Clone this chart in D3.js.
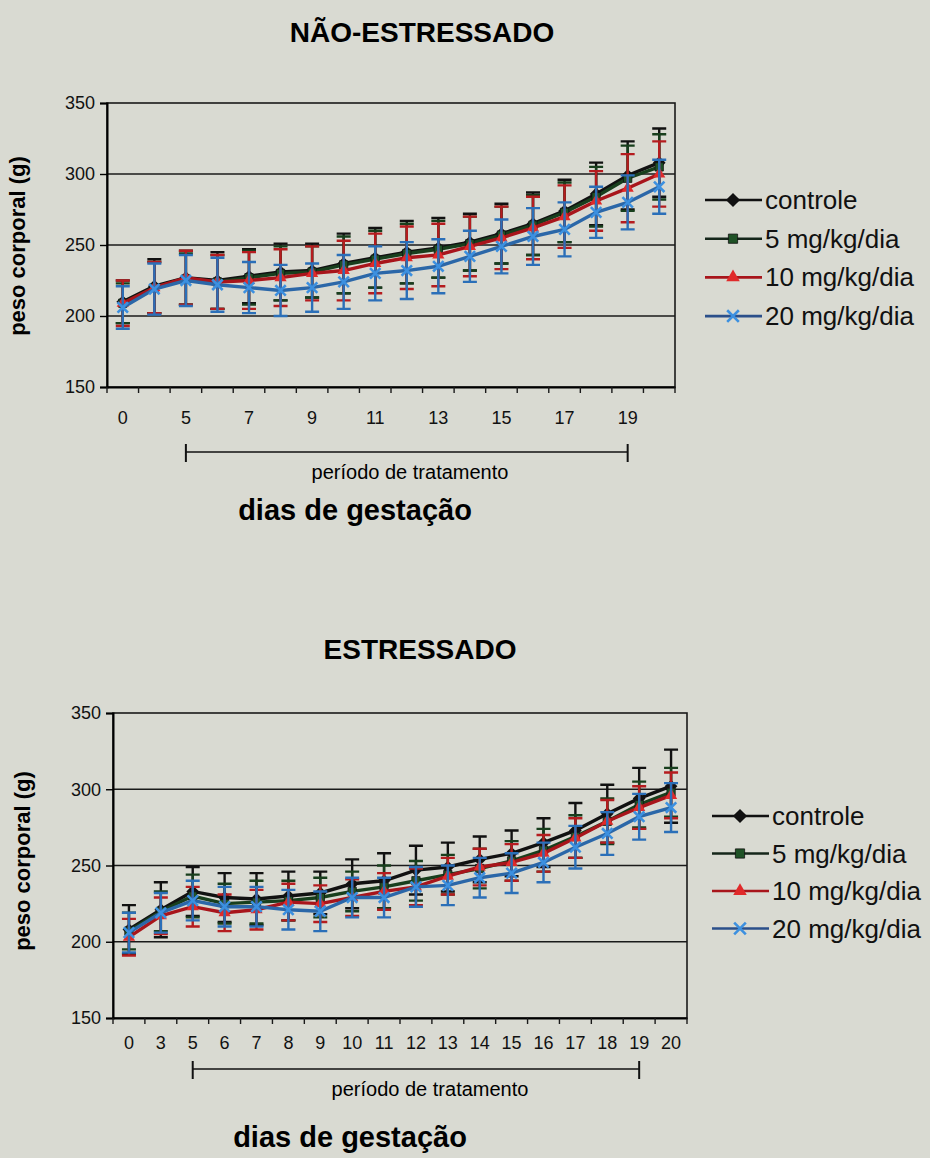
<!DOCTYPE html>
<html>
<head>
<meta charset="utf-8">
<script src="https://cdn.jsdelivr.net/npm/d3@7"></script>
<style>
    body { margin: 0; background: #d9dad2; }
    svg { display: block; font-family: "Liberation Sans", Arial, sans-serif; }
</style>
</head>
<body>
<div id="chart"></div>
<script>

// gestation days (categories) and y ticks
const days = ["0", "3", "5", "6", "7", "8", "9", "10", "11", "12", "13", "14", "15", "16", "17", "18", "19", "20"];
const yTicks = [150, 200, 250, 300, 350];
const seriesNames = ["controle", "5 mg/kg/dia", "10 mg/kg/dia", "20 mg/kg/dia"];

// NÃO-ESTRESSADO : means and error
const naoControle = [210, 221, 227, 225, 228, 231, 232, 237, 241, 245, 248, 252, 258, 265, 274, 286, 299, 308];
const nao5mg      = [209, 220, 226, 224, 227, 230, 231, 236, 240, 244, 247, 251, 257, 264, 273, 284, 297, 305];
const nao10mg     = [209, 220, 227, 224, 225, 227, 230, 232, 237, 241, 243, 249, 255, 262, 270, 281, 290, 300];
const nao20mg     = [206, 219, 225, 222, 220, 218, 220, 224, 230, 232, 235, 242, 249, 256, 261, 273, 280, 291];
const naoControleErr = [15, 19, 19, 20, 19, 20, 19, 21, 21, 22, 21, 20, 21, 22, 22, 22, 24, 24];
const nao5mgErr      = [14, 18, 18, 19, 19, 19, 18, 20, 20, 21, 20, 19, 20, 21, 21, 21, 23, 23];
const nao10mgErr     = [16, 18, 19, 19, 20, 20, 19, 21, 21, 22, 22, 21, 22, 22, 22, 21, 24, 23];
const nao20mgErr     = [15, 18, 18, 19, 18, 18, 17, 19, 19, 20, 19, 18, 19, 20, 19, 18, 19, 19];

// ESTRESSADO : means and error
const estControle = [208, 221, 233, 229, 228, 230, 232, 238, 240, 247, 249, 254, 258, 265, 273, 284, 294, 302];
const est5mg      = [207, 220, 230, 225, 226, 227, 229, 233, 236, 240, 244, 248, 253, 260, 269, 279, 290, 298];
const est10mg     = [203, 217, 223, 219, 221, 226, 225, 229, 233, 236, 243, 249, 252, 258, 268, 279, 288, 296];
const est20mg     = [206, 219, 227, 223, 223, 221, 220, 229, 229, 236, 237, 242, 245, 252, 262, 271, 282, 288];
const estControleErr = [16, 18, 16, 16, 17, 16, 14, 16, 18, 16, 16, 15, 15, 16, 18, 19, 20, 24];
const est5mgErr      = [12, 13, 14, 13, 14, 13, 13, 13, 14, 13, 13, 13, 13, 14, 14, 15, 15, 16];
const est10mgErr     = [12, 12, 13, 12, 13, 12, 12, 12, 12, 12, 12, 12, 12, 12, 13, 14, 14, 15];
const est20mgErr     = [13, 13, 13, 13, 13, 13, 13, 13, 13, 13, 13, 13, 13, 13, 14, 14, 15, 16];

const styles = [
    {line: "#111111", legLine: "#111111", fill: "#111111", err: "#111111", sym: "diamond"},
    {line: "#183f1d", legLine: "#15261a", fill: "#1f5226", err: "#183f1d", sym: "square"},
    {line: "#a8151b", legLine: "#a8151b", fill: "#e02a2a", err: "#b51c1f", sym: "triangle"},
    {line: "#2b67a8", legLine: "#2b4f8a", fill: "#3c90e0", err: "#2b6fb8", sym: "x"}
];

const svg = d3.select("#chart").append("svg")
    .attr("width", 930)
    .attr("height", 1158);

function marker(sel, st, size) {
    if (st.sym == "diamond") {
        sel.append("path").attr("d", d3.symbol(d3.symbolSquare, size * size)())
            .attr("transform", "rotate(45)").attr("fill", st.fill);
    } else if (st.sym == "square") {
        sel.append("path").attr("d", d3.symbol(d3.symbolSquare, size * size * 0.85)())
            .attr("fill", st.fill).attr("stroke", "#111").attr("stroke-width", 0.8);
    } else if (st.sym == "triangle") {
        sel.append("path").attr("d", d3.symbol(d3.symbolTriangle, size * size * 0.8)())
            .attr("fill", st.fill);
    } else {
        sel.append("path").attr("d", d3.symbol(d3.symbolX, size * size * 0.9)())
            .attr("fill", "none").attr("stroke", st.fill).attr("stroke-width", 2.6);
    }
}

function drawPanel(p) {
    let g = svg.append("g");

    let x = d3.scaleBand().domain(days).range([p.left, p.right]);
    let y = d3.scaleLinear().domain([150, 350]).range([p.bottom, p.top]);
    let cx = d => x(d) + x.bandwidth() / 2;

    // title
    g.append("text")
        .attr("x", p.titleX).attr("y", p.titleY)
        .attr("text-anchor", "middle")
        .attr("font-size", 28).attr("font-weight", "bold")
        .text(p.title);

    // gridlines
    g.append("g").selectAll("line")
        .data([200, 250, 300])
        .enter().append("line")
        .attr("x1", p.left).attr("x2", p.right)
        .attr("y1", d => y(d)).attr("y2", d => y(d))
        .attr("stroke", "#1a1a1a").attr("stroke-width", 1.4);

    g.append("rect")
        .attr("x", p.left).attr("y", p.top)
        .attr("width", p.right - p.left).attr("height", p.bottom - p.top)
        .attr("fill", "none").attr("stroke", "#1a1a1a").attr("stroke-width", 1.6);

    // y axis
    let yAxis = g.append("g")
        .attr("transform", "translate(" + p.left + ",0)")
        .call(d3.axisLeft(y).tickValues(yTicks).tickSize(7).tickPadding(5));
    yAxis.select(".domain").attr("stroke-width", 2);
    yAxis.selectAll("text").attr("font-size", 18).attr("fill", "#111").attr("font-family", "Liberation Sans, Arial, sans-serif");
    yAxis.selectAll(".tick line").attr("stroke-width", 1.4);

    // x axis (labels centred, ticks between categories)
    let xAxis = g.append("g")
        .attr("transform", "translate(0," + p.bottom + ")")
        .call(d3.axisBottom(x).tickSize(0).tickPadding(p.xPad)
            .tickFormat((d, i) => (p.every2 && i % 2 == 1) ? "" : d));
    xAxis.select(".domain").attr("stroke-width", 2);
    xAxis.selectAll("text").attr("font-size", 18).attr("fill", "#111").attr("font-family", "Liberation Sans, Arial, sans-serif");

    g.append("g").selectAll("line")
        .data(days.concat(["end"]))
        .enter().append("line")
        .attr("x1", d => d == "end" ? p.right : x(d))
        .attr("x2", d => d == "end" ? p.right : x(d))
        .attr("y1", p.bottom).attr("y2", p.bottom + 6)
        .attr("stroke", "#1a1a1a").attr("stroke-width", 1.4);

    // y label
    g.append("text")
        .attr("transform", "translate(" + p.yLabX + "," + p.yLabY + ") rotate(-90)")
        .attr("text-anchor", "middle")
        .attr("font-size", 22).attr("font-weight", "bold")
        .text("peso corporal (g)");

    // treatment period bracket
    let bx1 = cx("5"), bx2 = cx("19");
    g.append("line").attr("x1", bx1).attr("x2", bx2).attr("y1", p.brY).attr("y2", p.brY)
        .attr("stroke", "#111").attr("stroke-width", 1.6);
    [bx1, bx2].forEach(bx => {
        g.append("line").attr("x1", bx).attr("x2", bx).attr("y1", p.brY - 8).attr("y2", p.brY + 10)
            .attr("stroke", "#111").attr("stroke-width", 2);
    });
    g.append("text")
        .attr("x", p.brTextX).attr("y", p.brY + 27)
        .attr("text-anchor", "middle").attr("font-size", 20)
        .text("período de tratamento");

    g.append("text")
        .attr("x", p.xLabX).attr("y", p.xLabY)
        .attr("text-anchor", "middle")
        .attr("font-size", 29).attr("font-weight", "bold")
        .text("dias de gestação");

    // series: error bars, lines, markers
    p.series.forEach((s, k) => {
        let st = styles[k];
        let pts = days.map((d, i) => ({d: d, v: s.vals[i], e: s.err[i]}));
        let sg = g.append("g");

        sg.selectAll(".err").data(pts).enter().append("path")
            .attr("d", q => {
                let xx = cx(q.d), y1 = y(q.v + q.e), y2 = y(q.v - q.e);
                return "M" + xx + "," + y1 + "V" + y2 +
                    "M" + (xx - 7) + "," + y1 + "H" + (xx + 7) +
                    "M" + (xx - 7) + "," + y2 + "H" + (xx + 7);
            })
            .attr("fill", "none").attr("stroke", st.err).attr("stroke-width", 2.4);

        sg.append("path").datum(pts)
            .attr("d", d3.line().x(q => cx(q.d)).y(q => y(q.v)))
            .attr("fill", "none").attr("stroke", st.line).attr("stroke-width", 3.4);

        sg.selectAll(".mk").data(pts).enter().append("g")
            .attr("transform", q => "translate(" + cx(q.d) + "," + y(q.v) + ")")
            .each(function() { marker(d3.select(this), st, 9); });
    });

    // legend
    seriesNames.forEach((name, k) => {
        let st = styles[k];
        let ly = p.legY + k * p.legStep;
        let lg = g.append("g");
        lg.append("line").attr("x1", p.legX).attr("x2", p.legX + 57).attr("y1", ly).attr("y2", ly)
            .attr("stroke", st.legLine).attr("stroke-width", 2.6);
        let m = lg.append("g").attr("transform", "translate(" + (p.legX + 28) + "," + ly + ")");
        marker(m, st, 10);
        lg.append("text")
            .attr("x", p.legX + 60).attr("y", ly + 9)
            .attr("font-size", 26).attr("fill", "#111")
            .text(name);
    });
}

drawPanel({
    title: "NÃO-ESTRESSADO", titleX: 422, titleY: 42,
    left: 107, right: 675, top: 103, bottom: 387,
    every2: true, xPad: 24,
    yLabX: 25, yLabY: 246,
    brY: 452, brTextX: 410, xLabX: 355, xLabY: 520,
    legX: 705, legY: 200, legStep: 38.7,
    series: [
        {vals: naoControle, err: naoControleErr},
        {vals: nao5mg, err: nao5mgErr},
        {vals: nao10mg, err: nao10mgErr},
        {vals: nao20mg, err: nao20mgErr}
    ]
});

drawPanel({
    title: "ESTRESSADO", titleX: 420, titleY: 659,
    left: 113, right: 687, top: 713, bottom: 1018,
    every2: false, xPad: 18,
    yLabX: 30, yLabY: 861,
    brY: 1069, brTextX: 430, xLabX: 350, xLabY: 1147,
    legX: 712, legY: 816, legStep: 37.5,
    series: [
        {vals: estControle, err: estControleErr},
        {vals: est5mg, err: est5mgErr},
        {vals: est10mg, err: est10mgErr},
        {vals: est20mg, err: est20mgErr}
    ]
});

</script>
</body>
</html>
